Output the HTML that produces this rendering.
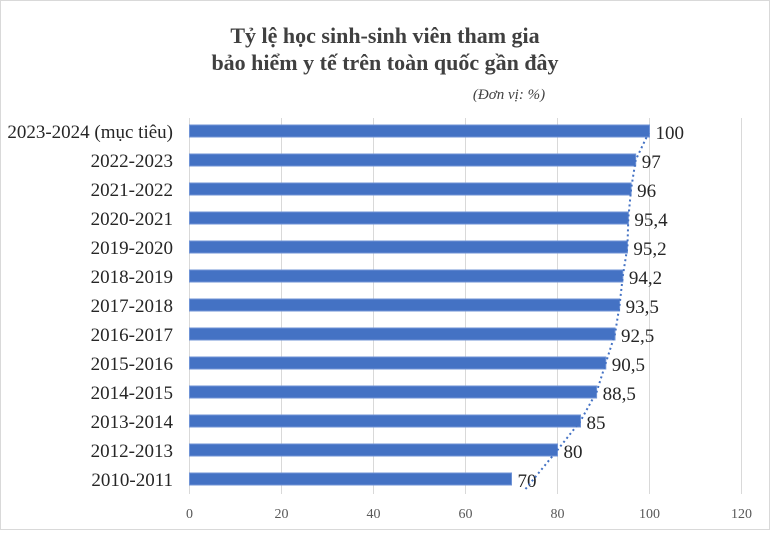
<!DOCTYPE html>
<html><head><meta charset="utf-8"><style>
body{margin:0;background:#fff}
#c{position:relative;width:770px;height:530px;box-sizing:border-box;border:1px solid #d9d9d9;font-family:"Liberation Serif",serif}
</style></head><body>
<div id="c">
<svg id="s" width="768" height="528"></svg>
</div>
<script>
const categories=["2023-2024 (mục tiêu)","2022-2023","2021-2022","2020-2021","2019-2020","2018-2019","2017-2018","2016-2017","2015-2016","2014-2015","2013-2014","2012-2013","2010-2011"];
const values=[100,97,96,95.4,95.2,94.2,93.5,92.5,90.5,88.5,85,80,70];
const valueLabels=["100","97","96","95,4","95,2","94,2","93,5","92,5","90,5","88,5","85","80","70"];
const ticks=[0,20,40,60,80,100,120];
const NS="http://www.w3.org/2000/svg",s=document.getElementById('s');
const x=v=>188.5+v*4.6, y=i=>130+i*29;
function el(t,a,txt){const e=document.createElementNS(NS,t);for(const k in a)e.setAttribute(k,a[k]);if(txt!=null)e.textContent=txt;s.appendChild(e);return e;}
let e;
e=el('text',{x:384,y:42,'text-anchor':'middle','font-size':22,'font-weight':'bold',fill:'#404040'},'Tỷ lệ học sinh-sinh viên tham gia');

e=el('text',{x:384,y:69,'text-anchor':'middle','font-size':22,'font-weight':'bold',fill:'#404040'},'bảo hiểm y tế trên toàn quốc gần đây');

e=el('text',{x:508,y:98,'text-anchor':'middle','font-size':15,'font-style':'italic',fill:'#404040'},'(Đơn vị: %)');

ticks.forEach(t=>{
 e=el('line',{x1:x(t),x2:x(t),y1:117,y2:493,stroke:'#d9d9d9','stroke-width':1});
 
 e=el('text',{x:x(t),y:517,'text-anchor':'middle','font-size':14,fill:'#595959'},t);
 
});
categories.forEach((c,i)=>{
 e=el('rect',{x:x(0),y:y(i)-6,width:x(values[i])-x(0),height:12,fill:'#4472C4',stroke:'#6f93d6','stroke-width':1});
 
 e=el('text',{x:172,y:y(i)+7,'text-anchor':'end','font-size':19,fill:'#262626'},c);
 
 e=el('text',{x:x(values[i])+6,y:y(i)+8,'font-size':19,fill:'#262626'},valueLabels[i]);
 
});
let d='';
for(let i=values.length-1;i>=0;i--){d+=(d?'L':'M')+(x(values[i])+(i==values.length-1?14:0))+','+(i==values.length-1?y(i)+10:y(i));}
e=el('path',{d:d,fill:'none',stroke:'#4472C4','stroke-width':2,'stroke-dasharray':'2,3'});

</script>
</body></html>
